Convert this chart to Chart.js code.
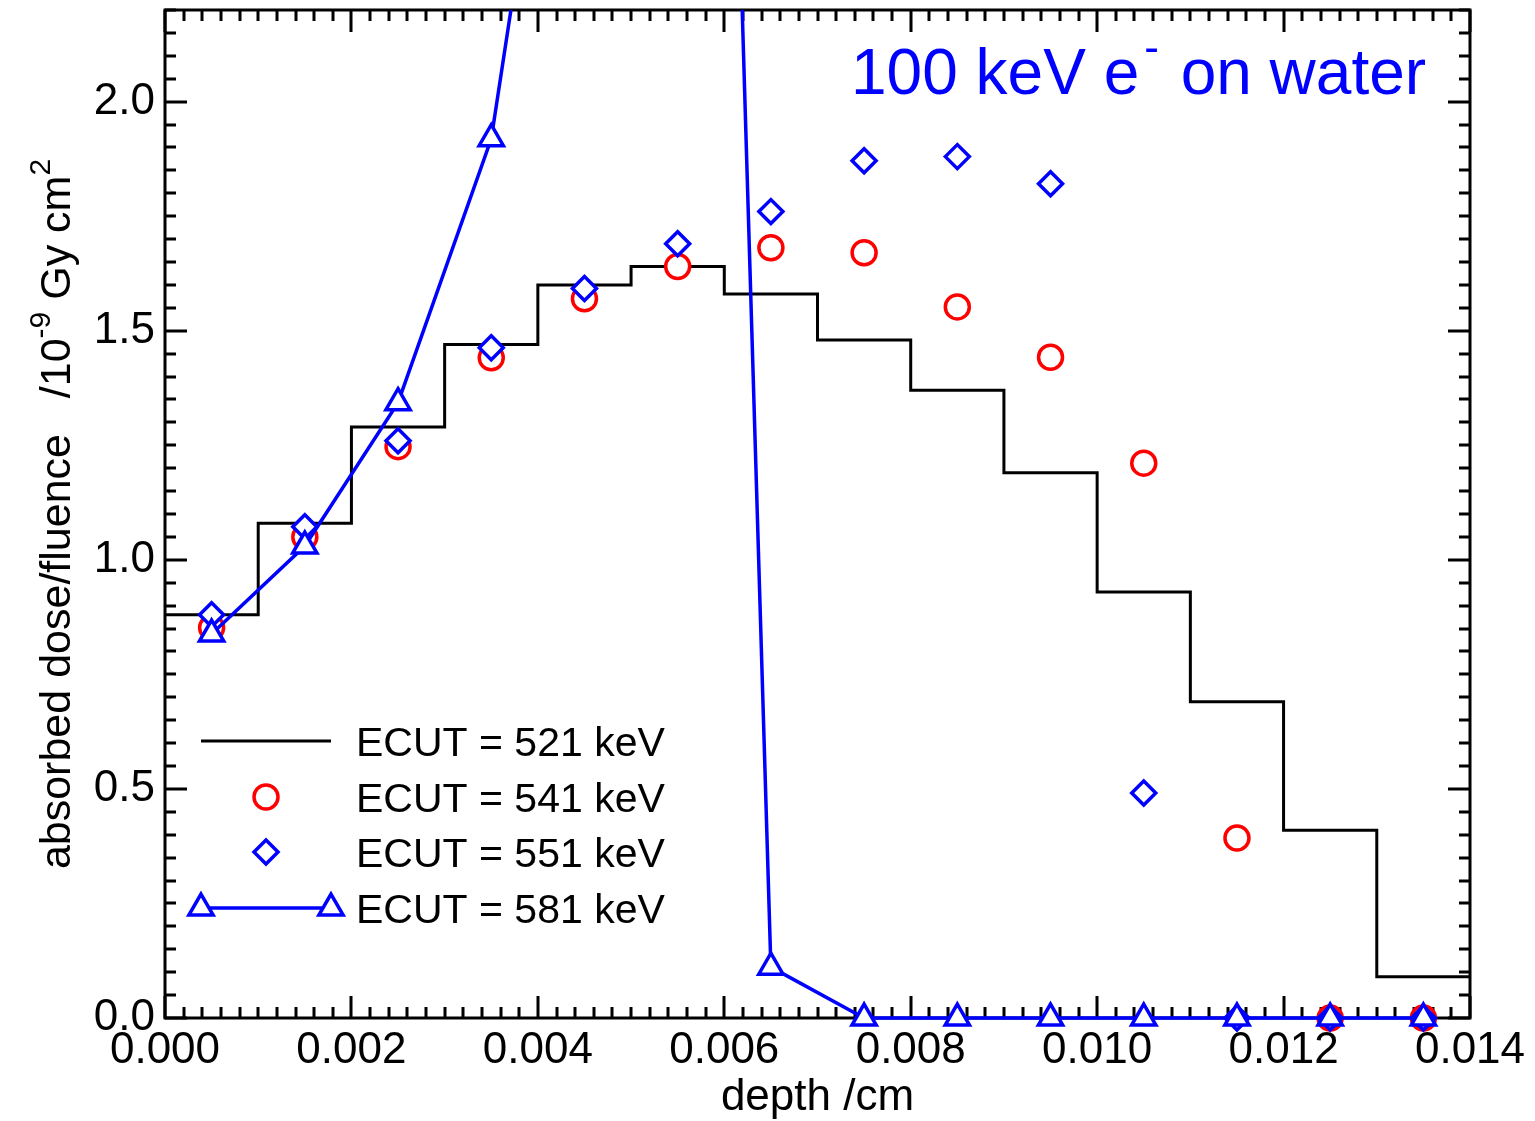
<!DOCTYPE html>
<html>
<head>
<meta charset="utf-8">
<script src="https://cdn.jsdelivr.net/npm/chart.js@4/dist/chart.umd.min.js"></script>
<style>
  body { margin: 0; background: #fff; }
  canvas { display: block; }
</style>
</head>
<body>
<canvas id="dose-chart" width="1535" height="1121"></canvas>
<script>
// bin edges of the histogram (cm) and the ECUT = 521 keV step values
const depthEdges = [0, 0.001, 0.002, 0.003, 0.004, 0.005, 0.006, 0.007, 0.008, 0.009, 0.010, 0.011, 0.012, 0.013, 0.014];
const dose521 = [0.88, 1.08, 1.29, 1.47, 1.60, 1.64, 1.58, 1.48, 1.37, 1.19, 0.93, 0.69, 0.41, 0.09];

// bin centres for the marker series
const binCentres = [0.0005, 0.0015, 0.0025, 0.0035, 0.0045, 0.0055, 0.0065, 0.0075, 0.0085, 0.0095, 0.0105, 0.0115, 0.0125, 0.0135];
const dose541 = [0.852, 1.05, 1.247, 1.441, 1.57, 1.64, 1.681, 1.67, 1.552, 1.442, 1.211, 0.393, 0, 0];
const dose551 = [0.88, 1.072, 1.26, 1.463, 1.592, 1.69, 1.76, 1.871, 1.88, 1.821, 0.491, 0, 0, 0];
const dose581 = [0.838, 1.03, 1.343, 1.919, 3.25, 6.9, 0.111, 0, 0, 0, 0, 0, 0, 0];

const legendLabels = ["ECUT = 521 keV", "ECUT = 541 keV", "ECUT = 551 keV", "ECUT = 581 keV"];

const FONT = "'Liberation Sans', Arial, Helvetica, sans-serif";
const RED = "#ff0000";
const BLUE = "#0000ff";

const pts = (xs, ys) => xs.map((x, i) => ({ x: x, y: ys[i] }));
// each bin starts at its left edge, last value repeated to close the final bin
const stepData = pts(depthEdges, dose521.concat([dose521[dose521.length - 1]]));
const markerClip = { left: 20, right: 20, top: 0, bottom: 20 };

// frame, inward ticks on all four sides, titles and the legend
const decorations = {
  id: "decorations",
  beforeDatasetsDraw(chart) {
    const ctx = chart.ctx;
    const a = chart.chartArea;
    const xs = chart.scales.x, ys = chart.scales.y;
    ctx.save();
    ctx.strokeStyle = "#000";
    ctx.lineWidth = 3;
    ctx.beginPath();
    for (let i = 0; i <= 70; i++) {
      const px = Math.round(xs.getPixelForValue(i * 0.0002));
      const len = i % 10 === 0 ? 22 : 11;
      ctx.moveTo(px, a.bottom); ctx.lineTo(px, a.bottom - len);
      ctx.moveTo(px, a.top); ctx.lineTo(px, a.top + len);
    }
    for (let i = 0; i <= 44; i++) {
      const py = Math.round(ys.getPixelForValue(i * 0.05));
      const len = i % 10 === 0 ? 22 : 11;
      ctx.moveTo(a.left, py); ctx.lineTo(a.left + len, py);
      ctx.moveTo(a.right, py); ctx.lineTo(a.right - len, py);
    }
    ctx.stroke();
    ctx.strokeRect(a.left, a.top, a.right - a.left, a.bottom - a.top);
    ctx.restore();
  },
  afterDraw(chart) {
    const ctx = chart.ctx;
    const a = chart.chartArea;
    ctx.save();
    ctx.fillStyle = "#000";
    ctx.textBaseline = "alphabetic";

    // x title
    ctx.font = "44px " + FONT;
    ctx.textAlign = "center";
    ctx.fillText("depth /cm", (a.left + a.right) / 2, 1110);

    // y title with superscripts, rotated
    const parts = [
      { t: "absorbed dose/fluence   /10", size: 43, rise: 0 },
      { t: "-9", size: 30, rise: 20 },
      { t: " Gy cm", size: 43, rise: 0 },
      { t: "2", size: 30, rise: 20 }
    ];
    let total = 0;
    parts.forEach(p => { ctx.font = p.size + "px " + FONT; p.w = ctx.measureText(p.t).width; total += p.w; });
    ctx.translate(70, (a.top + a.bottom) / 2);
    ctx.rotate(-Math.PI / 2);
    ctx.textAlign = "left";
    let cx = -total / 2;
    parts.forEach(p => {
      ctx.font = p.size + "px " + FONT;
      ctx.fillText(p.t, cx, -p.rise);
      cx += p.w;
    });
    ctx.setTransform(1, 0, 0, 1, 0, 0);

    // plot title
    ctx.fillStyle = BLUE;
    ctx.textAlign = "left";
    ctx.font = "64px " + FONT;
    let tx = 851;
    ctx.fillText("100 keV e", tx, 94);
    tx += ctx.measureText("100 keV e").width + 5;
    ctx.font = "44px " + FONT;
    ctx.fillText("-", tx, 94 - 32);
    tx += ctx.measureText("-").width + 4;
    ctx.font = "64px " + FONT;
    ctx.fillText(" on water", tx, 94);

    // legend
    const rows = [741, 797, 852, 908];
    ctx.fillStyle = "#000";
    ctx.font = "41px " + FONT;
    legendLabels.forEach((lab, i) => ctx.fillText(lab, 356, rows[i] + 15));

    ctx.lineWidth = 3;
    ctx.strokeStyle = "#000";
    ctx.beginPath(); ctx.moveTo(201, rows[0]); ctx.lineTo(331, rows[0]); ctx.stroke();

    const draw = Chart.helpers.drawPoint;
    ctx.fillStyle = "#fff";
    ctx.lineWidth = 3.5;
    ctx.strokeStyle = RED;
    draw(ctx, { pointStyle: "circle", radius: 12, rotation: 0, borderWidth: 3.5 }, 266, rows[1]);
    ctx.strokeStyle = BLUE;
    draw(ctx, { pointStyle: "rectRot", radius: 12, rotation: 0, borderWidth: 3.5 }, 266, rows[2]);
    ctx.beginPath(); ctx.moveTo(201, rows[3]); ctx.lineTo(331, rows[3]); ctx.stroke();
    draw(ctx, { pointStyle: "triangle", radius: 14, rotation: 0, borderWidth: 3.5 }, 201, rows[3]);
    draw(ctx, { pointStyle: "triangle", radius: 14, rotation: 0, borderWidth: 3.5 }, 331, rows[3]);
    ctx.restore();
  }
};

new Chart(document.getElementById("dose-chart"), {
  type: "line",
  data: {
    datasets: [
      {
        label: legendLabels[3],
        data: pts(binCentres, dose581),
        borderColor: BLUE,
        borderWidth: 3.5,
        pointStyle: "triangle",
        pointRadius: 14,
        pointBorderWidth: 3.5,
        pointBorderColor: BLUE,
        pointBackgroundColor: "#fff",
        clip: markerClip,
        order: 0
      },
      {
        label: legendLabels[2],
        data: pts(binCentres, dose551),
        showLine: false,
        pointStyle: "rectRot",
        pointRadius: 12,
        pointBorderWidth: 3.5,
        pointBorderColor: BLUE,
        pointBackgroundColor: "#fff",
        clip: markerClip,
        order: 1
      },
      {
        label: legendLabels[1],
        data: pts(binCentres, dose541),
        showLine: false,
        pointStyle: "circle",
        pointRadius: 12,
        pointBorderWidth: 3.5,
        pointBorderColor: RED,
        pointBackgroundColor: "#fff",
        clip: markerClip,
        order: 2
      },
      {
        label: legendLabels[0],
        data: stepData,
        stepped: "before",
        borderColor: "#000",
        borderWidth: 3,
        pointRadius: 0,
        order: 3
      }
    ]
  },
  options: {
    responsive: false,
    animation: false,
    layout: { autoPadding: false, padding: { top: 10, right: 65, left: 0, bottom: 0 } },
    plugins: {
      legend: { display: false },
      tooltip: { enabled: false }
    },
    scales: {
      x: {
        type: "linear",
        min: 0,
        max: 0.014,
        grid: { display: false, drawTicks: false, tickLength: 0 },
        border: { display: false },
        ticks: {
          stepSize: 0.002,
          padding: 6,
          color: "#000",
          font: { family: FONT, size: 44 },
          maxRotation: 0,
          autoSkip: false,
          callback: v => v.toFixed(3)
        },
        afterFit(scale) { scale.height = 103; scale.paddingLeft = 0; scale.paddingRight = 0; }
      },
      y: {
        type: "linear",
        min: 0,
        max: 2.2,
        grid: { display: false, drawTicks: false, tickLength: 0 },
        border: { display: false },
        ticks: {
          stepSize: 0.5,
          includeBounds: false,
          padding: 10,
          color: "#000",
          font: { family: FONT, size: 44 },
          callback: v => v.toFixed(1)
        },
        afterFit(scale) { scale.width = 165; scale.paddingTop = 0; scale.paddingBottom = 0; }
      }
    }
  },
  plugins: [decorations]
});
</script>
</body>
</html>
